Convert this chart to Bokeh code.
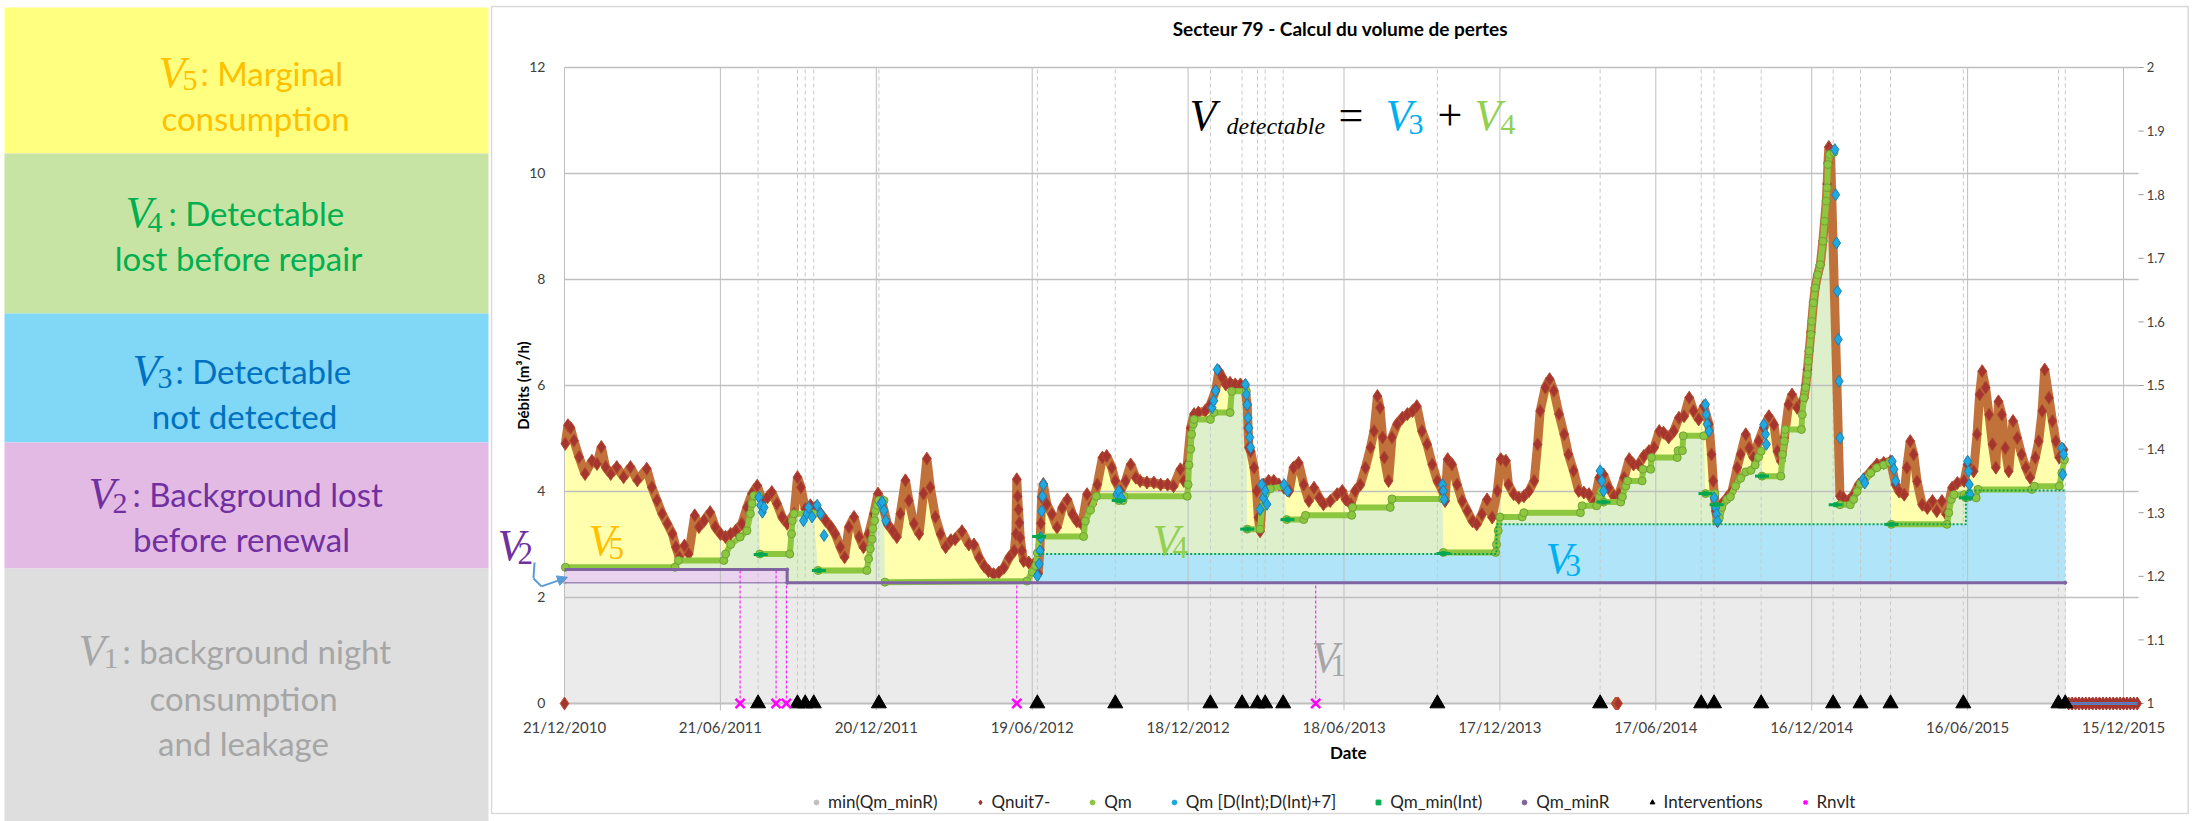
import numpy as np
import pandas as pd
from bokeh.plotting import figure
from bokeh.layouts import row
from bokeh.core.properties import value
from bokeh.models import Range1d, Label, Legend, LegendItem, Arrow, NormalHead
from bokeh.embed import file_html
from bokeh.resources import INLINE

# ---------------- data (days counted from 21/12/2010) ----------------
T0 = "2010-12-21"
tick_labels = ["21/12/2010", "21/06/2011", "20/12/2011", "19/06/2012", "18/12/2012", "18/06/2013",
               "17/12/2013", "17/06/2014", "16/12/2014", "16/06/2015", "15/12/2015"]
x_end_day = 1837.5
left_ticks = [0, 2, 4, 6, 8, 10, 12]
right_ticks = [1, 1.1, 1.2, 1.3, 1.4, 1.5, 1.6, 1.7, 1.8, 1.9, 2]

qnuit_day = [1, 4, 7, 11, 17, 24, 32, 38, 43, 48, 54, 61, 69, 77, 85, 96, 102, 108, 114, 120,
             126, 130, 134, 140, 145, 152, 157, 163, 170, 176, 182, 188, 194, 200, 207, 213, 219, 225, 231, 237,
             242, 248, 254, 260, 268, 272, 276, 281, 287, 293, 299, 305, 311, 316, 322, 327, 332, 338, 344, 349,
             355, 361, 366, 371, 377, 383, 388, 392, 398, 402, 408, 414, 419, 423, 427, 433, 439, 445, 451, 456,
             464, 472, 478, 484, 490, 495, 501, 507, 513, 519, 525, 527, 528, 529, 530, 531, 532, 534, 536, 542,
             548, 553, 555, 556, 557, 559, 563, 569, 575, 581, 587, 593, 598, 604, 610, 616, 622, 628, 633, 639,
             643, 649, 655, 661, 667, 672, 680, 688, 696, 704, 711, 719, 723, 727, 731, 735, 740, 748, 754, 760,
             764, 768, 772, 777, 783, 789, 794, 797, 798, 799, 801, 805, 808, 810, 812, 816, 822, 828, 834, 840,
             846, 851, 857, 863, 869, 875, 881, 886, 894, 902, 908, 912, 918, 923, 929, 935, 941, 945, 949, 952,
             955, 957, 962, 966, 972, 978, 984, 990, 995, 1001, 1007, 1013, 1019, 1025, 1028, 1031, 1036, 1042, 1048, 1054,
             1060, 1065, 1071, 1077, 1083, 1089, 1093, 1099, 1102, 1108, 1114, 1120, 1126, 1132, 1136, 1139, 1145, 1150, 1155, 1161,
             1167, 1172, 1178, 1184, 1190, 1196, 1202, 1208, 1213, 1219, 1225, 1231, 1237, 1243, 1248, 1254, 1260, 1266, 1272, 1278,
             1283, 1289, 1295, 1301, 1307, 1313, 1318, 1324, 1330, 1336, 1339, 1341, 1344, 1346, 1351, 1357, 1363, 1369, 1373, 1379,
             1383, 1388, 1394, 1400, 1406, 1412, 1416, 1420, 1424, 1429, 1433, 1439, 1445, 1447, 1449, 1451, 1453, 1455, 1458, 1460,
             1463, 1466, 1469, 1471, 1473, 1474, 1475, 1476, 1478, 1489, 1493, 1499, 1505, 1511, 1517, 1525, 1532, 1540, 1548, 1554,
             1558, 1564, 1567, 1571, 1575, 1579, 1585, 1591, 1597, 1602, 1608, 1613, 1620, 1626, 1634, 1638, 1645, 1649, 1652, 1655,
             1659, 1663, 1667, 1671, 1674, 1678, 1682, 1686, 1691, 1696, 1701, 1706, 1711, 1717, 1721, 1725, 1728, 1733, 1737, 1741,
             1745, 1750]
qnuit_val = [4.9, 5.25, 5.2, 4.96, 4.65, 4.33, 4.58, 4.52, 4.84, 4.46, 4.33, 4.46, 4.27, 4.46, 4.21, 4.43, 4.08, 3.83, 3.58, 3.39,
             3.2, 2.95, 2.76, 2.98, 2.82, 3.55, 3.33, 3.45, 3.61, 3.33, 3.2, 3.14, 3.2, 3.26, 3.39, 3.7, 3.96, 4.11, 3.83, 3.89,
             3.99, 3.77, 3.52, 3.39, 3.58, 4.27, 4.08, 3.67, 3.74, 3.7, 3.58, 3.45, 3.33, 3.2, 2.95, 2.76, 3.33, 3.52, 3.14, 2.95,
             3.2, 3.58, 3.96, 3.77, 3.39, 3.26, 3.14, 3.58, 4.21, 3.83, 3.39, 3.2, 3.96, 4.62, 4.08, 3.52, 3.2, 2.95, 3.08, 3.1,
             3.25, 3.0, 3.0, 2.75, 2.59, 2.5, 2.44, 2.47, 2.56, 2.75, 2.88, 3.2, 4.23, 3.91, 3.66, 3.41, 3.13, 2.88, 2.69, 2.66,
             2.63, 2.45, 2.9, 3.4, 3.9, 4.14, 3.76, 3.57, 3.32, 3.69, 3.85, 3.57, 3.44, 3.38, 3.95, 3.76, 4.13, 4.64, 4.67, 4.45,
             4.2, 4.01, 4.2, 4.51, 4.26, 4.2, 4.17, 4.17, 4.13, 4.13, 4.1, 4.42, 4.2, 4.51, 5.2, 5.46, 5.49, 5.52, 5.64, 5.9,
             6.27, 6.15, 6.02, 6.05, 6.02, 6.02, 5.99, 5.64, 5.2, 4.83, 4.76, 4.45, 4.01, 3.51, 3.25, 4.13, 4.2, 4.2, 4.13, 4.07,
             4.01, 4.45, 4.54, 4.13, 3.82, 4.07, 3.88, 3.76, 3.82, 3.95, 4.01, 3.85, 3.76, 4.01, 4.13, 4.45, 4.83, 5.14, 5.8, 5.58,
             5.02, 4.64, 4.2, 5.02, 5.27, 5.39, 5.46, 5.52, 5.61, 5.14, 4.89, 4.51, 4.2, 4.01, 3.82, 4.61, 4.51, 4.13, 3.82, 3.63,
             3.44, 3.38, 3.57, 3.85, 3.51, 4.01, 4.61, 4.58, 4.13, 3.95, 3.88, 3.91, 4.01, 4.2, 4.89, 5.52, 5.96, 6.12, 5.9, 5.46,
             5.08, 4.7, 4.39, 4.01, 3.98, 3.95, 3.79, 4.26, 4.32, 4.07, 3.91, 3.95, 4.26, 4.61, 4.51, 4.51, 4.67, 4.76, 4.83, 5.14,
             5.11, 5.02, 5.14, 5.39, 5.42, 5.77, 5.52, 5.36, 5.61, 5.27, 4.7, 4.2, 3.63, 3.44, 3.76, 3.88, 4.01, 4.45, 4.7, 5.08,
             4.82, 4.64, 4.95, 5.2, 5.42, 5.26, 4.76, 4.57, 5.01, 5.64, 5.83, 5.58, 5.7, 5.77, 6.0, 6.3, 6.65, 7.0, 7.56, 7.84,
             8.09, 8.28, 8.72, 9.1, 9.48, 9.8, 10.2, 10.5, 10.4, 3.91, 3.88, 3.82, 3.94, 4.13, 4.23, 4.38, 4.51, 4.54, 4.57, 4.13,
             4.0, 3.94, 4.45, 4.95, 4.7, 4.19, 3.75, 3.69, 3.82, 3.63, 3.82, 3.57, 4.07, 4.16, 4.2, 4.51, 4.38, 5.08, 5.83, 6.27,
             5.96, 5.45, 4.89, 4.45, 5.7, 5.45, 4.82, 4.38, 5.33, 5.01, 4.7, 4.45, 4.26, 4.64, 4.95, 5.52, 6.3, 5.77, 5.33, 4.95,
             4.64, 4.79]
qnuit_zero_day = [0, 1227, 1228, 1229, 1230]
tail_zero_day = [1756, 1760, 1764, 1768, 1772, 1776, 1780, 1784, 1788, 1792, 1796, 1800, 1804, 1808,
                 1812, 1816, 1820, 1824, 1828, 1832, 1836]

qm_day = [1, 129, 133, 186, 188, 194, 205, 213, 217, 219, 221, 227, 228, 263, 265, 266, 268, 291, 296, 353,
          355, 357, 359, 360, 362, 363, 365, 367, 373, 374, 540, 546, 550, 552, 555, 606, 608, 614, 621, 645,
          647, 652, 653, 727, 728, 729, 731, 732, 734, 735, 754, 758, 777, 779, 796, 797, 812, 814, 818, 824,
          840, 843, 863, 865, 919, 920, 964, 966, 1025, 1026, 1087, 1088, 1090, 1092, 1118, 1120, 1186, 1188, 1205, 1208,
          1210, 1213, 1233, 1235, 1239, 1241, 1258, 1259, 1268, 1269, 1299, 1300, 1305, 1306, 1330, 1332, 1343, 1345, 1348, 1351,
          1357, 1361, 1367, 1373, 1379, 1385, 1390, 1394, 1397, 1398, 1420, 1422, 1424, 1425, 1444, 1445, 1447, 1449, 1451, 1452,
          1453, 1455, 1456, 1458, 1460, 1463, 1466, 1469, 1471, 1473, 1474, 1475, 1477, 1482, 1489, 1501, 1505, 1509, 1513, 1517,
          1525, 1532, 1540, 1547, 1549, 1614, 1616, 1619, 1622, 1634, 1636, 1648, 1650, 1713, 1716, 1745, 1748, 1751]
qm_val = [2.57, 2.57, 2.70, 2.70, 2.82, 3.0, 3.14, 3.26, 3.58, 3.77, 3.92, 3.92, 2.82, 2.82, 3.2, 3.45, 3.58, 3.58, 2.51, 2.51,
          2.73, 2.92, 3.1, 3.3, 3.45, 3.64, 3.74, 3.83, 3.83, 2.29, 2.31, 2.48, 2.6, 2.84, 3.15, 3.15, 3.44, 3.65, 3.91, 3.91,
          3.83, 3.83, 3.91, 3.91, 4.13, 4.5, 4.8, 5.08, 5.27, 5.36, 5.36, 5.49, 5.49, 5.89, 5.89, 3.29, 3.29, 3.7, 3.95, 4.05,
          4.1, 3.47, 3.47, 3.55, 3.55, 3.7, 3.7, 3.86, 3.86, 2.85, 2.85, 3.0, 3.26, 3.52, 3.52, 3.6, 3.6, 3.73, 3.73, 3.9,
          4.0, 3.8, 3.8, 3.9, 4.1, 4.2, 4.2, 4.42, 4.42, 4.64, 4.64, 4.77, 4.77, 5.05, 5.05, 3.96, 3.96, 3.44, 3.5, 3.7,
          3.85, 3.9, 4.1, 4.25, 4.37, 4.4, 4.5, 4.65, 4.76, 4.29, 4.29, 4.7, 4.95, 5.17, 5.17, 5.45, 5.77, 5.96, 6.21, 6.46,
          6.65, 6.96, 7.21, 7.56, 7.84, 8.09, 8.28, 8.72, 9.1, 9.48, 9.73, 10.17, 10.36, 10.4, 3.75, 3.75, 3.85, 4.0, 4.15, 4.2,
          4.35, 4.45, 4.5, 4.55, 3.38, 3.38, 3.6, 3.85, 3.94, 3.94, 3.88, 3.88, 4.04, 4.04, 4.1, 4.1, 4.35, 4.6]

# Qm [D(Int);D(Int)+7]
qmd7_day = [227, 229, 231, 233, 279, 283, 285, 289, 295, 299, 303, 369, 371, 373, 375,
            552, 554, 555, 556, 557, 558, 559, 645, 647, 650, 756, 758, 760, 762,
            795, 796, 797, 798, 799, 800, 801, 812, 814, 816, 818, 820, 840, 844,
            1025, 1026, 1027, 1209, 1211, 1213, 1332, 1333, 1334, 1336, 1342, 1344, 1345, 1346,
            1400, 1402, 1403, 1483, 1484, 1485, 1486, 1487, 1488, 1489, 1516, 1518,
            1550, 1552, 1554, 1638, 1639, 1640, 1641, 1748, 1749, 1750]
qmd7_val = [3.89, 3.74, 3.61, 3.7, 3.45, 3.58, 3.7, 3.52, 3.74, 3.58, 3.17, 3.77, 3.8, 3.64, 3.45,
            2.41, 2.63, 2.88, 3.13, 3.63, 3.91, 4.13, 3.95, 4.01, 3.88, 5.58, 5.71, 5.9, 6.3,
            6.02, 5.83, 5.64, 5.39, 5.2, 5.02, 4.83, 3.66, 4.13, 3.88, 4.01, 3.76, 4.13, 4.01,
            4.13, 4.01, 3.85, 4.39, 4.2, 4.01, 5.64, 5.45, 5.27, 5.14, 3.88, 3.69, 3.57, 3.44,
            5.26, 5.08, 4.89, 10.45, 9.6, 8.69, 7.78, 6.87, 6.08, 5.01, 4.23, 4.16,
            4.57, 4.42, 4.2, 4.57, 4.38, 4.13, 3.94, 4.82, 4.32, 4.7]

# Qm_min(Int)
qmin_dash_day = [229, 297, 554, 647, 797, 844, 1026, 1213, 1332, 1345, 1398, 1484, 1549, 1636]
qmin_dash_val = [2.81, 2.51, 3.15, 3.83, 3.29, 3.47, 2.83, 3.8, 3.96, 3.75, 4.29, 3.75, 3.38, 3.88]
qmin_int_start = [553, 1088, 1636]
qmin_int_level = [2.82, 3.38, 4.02]

# Qm_minR and min(Qm_minR)
minR_start = [0, 260]
minR_level = [2.53, 2.28]
min_minR_level = 2.28
data_end_day = 1752

interventions_day = [226, 272, 281, 291, 367, 552, 643, 754, 791, 809, 818, 839, 1019, 1209,
                     1327, 1342, 1397, 1481, 1513, 1548, 1633, 1744, 1752]
rnvlt_day = [205, 247, 259, 528, 877]

assert len(qnuit_day) == len(qnuit_val)
assert len(qm_day) == len(qm_val)
assert len(qmd7_day) == len(qmd7_val)

# ---------------- helpers ----------------
t0_ms = pd.Timestamp(T0).value / 1e6


def ms(days):
    return t0_ms + np.asarray(days, dtype=float) * 86400000.0


def steps(starts, levels, end):
    xs, ys = [], []
    bounds = list(starts[1:]) + [end]
    for s, e, v in zip(starts, bounds, levels):
        xs += [s, e]
        ys += [v, v]
    return xs, ys


def level_at(starts, levels, d):
    idx = np.searchsorted(np.asarray(starts), d, side="right") - 1
    return levels[max(idx, 0)]


FONT = "Lato"
SERIF = "Liberation Serif"

# ---------------- left panel ----------------
lp = figure(width=490, height=821, x_range=Range1d(0, 490), y_range=Range1d(821, 0),
            output_backend="svg", toolbar_location=None, min_border=0)
lp.axis.visible = False
lp.grid.visible = False
lp.outline_line_color = None
box_top = [7, 153, 313, 442, 568]
box_bot = [153, 313, 442, 568, 821]
box_col = ["#FFFF80", "#C8E4A5", "#80D7F6", "#E3BAE4", "#DEDEDE"]
lp.quad(left=[4] * 5, right=[488] * 5, top=box_top, bottom=box_bot, fill_color=box_col, line_color=None)


def ltxt(fig, x, y, t, col, size, font=FONT, style="normal", align="left"):
    fig.add_layout(Label(x=x, y=y, text=t, text_color=col, text_font=font, text_font_size=f"{size}px",
                         text_font_style=style, text_align=align, text_baseline="alphabetic"))


panel = [
    (158, 72, "5", 182, 80, 200, ": Marginal", [(255, 117, "consumption")], "#FFC000"),
    (125, 212, "4", 147, 222, 168, ": Detectable", [(238, 257, "lost before repair")], "#00B050"),
    (132, 370, "3", 157, 378, 175, ": Detectable", [(244, 415, "not detected")], "#0070C0"),
    (88, 493, "2", 112, 503, 132, ": Background lost", [(241, 538, "before renewal")], "#7030A0"),
    (78, 650, "1", 103, 658, 122, ": background night",
     [(243, 697, "consumption"), (243, 742, "and leakage")], "#A6A6A6"),
]
for vx, by, dg, sx, sy, rx, rest, lines, col in panel:
    ltxt(lp, vx, by, "V", col, 44, SERIF, "italic")
    ltxt(lp, sx, sy, dg, col, 30, SERIF)
    ltxt(lp, rx, by, rest, col, 33)
    for cx, cy, t in lines:
        ltxt(lp, cx, cy, t, col, 33, align="center")

# ---------------- main chart ----------------
tick_ms = [pd.to_datetime(t, format="%d/%m/%Y").value / 1e6 for t in tick_labels]
# the frame covers the whole canvas; axes texts are drawn in data space
Y_LO, Y_HI = -2.2264, 13.264
X_LO, X_HI = -86.39, 1902.87

p = figure(width=1704, height=821, x_axis_location=None, y_axis_location=None,
           x_range=Range1d(ms(X_LO), ms(X_HI)), y_range=Range1d(Y_LO, Y_HI),
           output_backend="svg", toolbar_location=None, min_border=0)
p.outline_line_color = None
p.grid.visible = False
for f in (lp, p):
    if "frame_align" in f.properties():
        f.frame_align = False

# chart border
cb = p.quad(left=[float(ms(-85.2))], right=[float(ms(1895.5))], top=[13.15], bottom=[-2.075],
            fill_color=None, line_color="#D9D9D9", line_width=1.5)
cb.level = "image"

# areas (bottom layer)
bx, by_ = steps(qmin_int_start, qmin_int_level, data_end_day)
rx_, ry_ = steps(minR_start, minR_level, data_end_day)
areas = [
    (qnuit_day, qnuit_val, "#FFFFAE"),
    (qm_day, qm_val, "#DDEFCB"),
    (bx, by_, "#B0E4F8"),
    (rx_, ry_, "#EAD3EE"),
    ([0, data_end_day], [min_minR_level] * 2, "#EBEBEB"),
]
for xs, ys, col in areas:
    r = p.varea(x=ms(xs), y1=0, y2=ys, fill_color=col)
    r.level = "image"

# grid lines (drawn over the areas)
n_l = len(left_ticks)
g1 = p.segment(x0=ms([0] * n_l), y0=left_ticks, x1=ms([x_end_day] * n_l), y1=left_ticks,
               line_color="#BFBFBF", line_width=[2] + [1.3] * (n_l - 1))
g2 = p.segment(x0=tick_ms, y0=[-0.13] * len(tick_ms), x1=tick_ms, y1=[left_ticks[-1]] * len(tick_ms),
               line_color="#BFBFBF", line_width=1)
g3 = p.segment(x0=ms(interventions_day), y0=[0] * len(interventions_day), x1=ms(interventions_day),
               y1=[left_ticks[-1]] * len(interventions_day), line_color="#C8C8C8", line_dash="4 3", line_width=1)
rn_top = [level_at(minR_start, minR_level, d) for d in rnvlt_day]
g4 = p.segment(x0=ms(rnvlt_day), y0=[0] * len(rnvlt_day), x1=ms(rnvlt_day), y1=rn_top,
               line_color="#FF00FF", line_dash="3 2", line_width=1)
for g in (g1, g2, g3, g4):
    g.level = "underlay"

# left axis labels
p.text(x=ms([-22.2] * n_l), y=left_ticks, text=[f"{t}" for t in left_ticks],
       text_align="right", text_baseline="middle", text_font=value(FONT),
       text_font_size=value("14px"), text_color="#404040")
p.add_layout(Label(x=float(ms(-49)), y=6.0, text="Débits (m³/h)", angle=np.pi / 2, text_align="center",
                   text_baseline="middle", text_font=FONT, text_font_size="15px", text_font_style="bold",
                   text_color="#000000"))
# right axis (secondary scale 1..2 mapped onto 0..12)
r_pos = [(t - 1) * 12 for t in right_ticks]
p.segment(x0=ms([x_end_day] * len(r_pos)), y0=r_pos, x1=ms([x_end_day + 6] * len(r_pos)), y1=r_pos,
          line_color="#999999", line_width=1)
p.text(x=ms([x_end_day + 9.5] * len(r_pos)), y=r_pos, text=[f"{t:g}" for t in right_ticks],
       text_align="left", text_baseline="middle", text_font=value(FONT),
       text_font_size=value("13px"), text_color="#404040")
# bottom axis
p.text(x=tick_ms, y=[-0.434] * len(tick_ms), text=tick_labels, text_align="center", text_baseline="middle",
       text_font=value(FONT), text_font_size=value("15px"), text_color="#404040")
p.add_layout(Label(x=float(ms(915)), y=-0.925, text="Date", text_align="center", text_baseline="middle",
                   text_font=FONT, text_font_size="17px", text_font_style="bold", text_color="#000000"))
# title
p.add_layout(Label(x=float(ms(905.9)), y=12.736, text="Secteur 79 - Calcul du volume de pertes",
                   text_align="center", text_baseline="middle", text_font=FONT, text_font_size="19px",
                   text_font_style="bold", text_color="#000000"))

# small marks used as legend glyphs (drawn first, hidden under the full-size marks)
lg_min = p.scatter(ms([0, data_end_day]), [min_minR_level] * 2, marker="circle", size=3,
                   fill_color="#BFBFBF", line_color="#BFBFBF")
lg_minR = p.scatter(ms(rx_), ry_, marker="circle", size=3, fill_color="#8064A2", line_color="#8064A2")

# Qnuit7-
lg_qn = p.scatter(ms(qnuit_day), qnuit_val, marker="diamond", size=8, fill_color="#A5352E", line_color="#A5352E")
p.line(ms(qnuit_day), qnuit_val, line_color="#BE6A31", line_width=9, line_alpha=0.95)
p.scatter(ms(qnuit_day), qnuit_val, marker="diamond", size=13,
          fill_color="#A5352E", line_color="#B04A2F", line_width=1)
p.scatter(ms(qnuit_zero_day), [0] * len(qnuit_zero_day), marker="diamond", size=13,
          fill_color="#A5352E", line_color="#B8562F")
p.scatter(ms(tail_zero_day), [0] * len(tail_zero_day), marker="diamond", size=13,
          fill_color="#A5352E", line_color="#A5352E")

# Qm (thick line broken at drops + circles)
lg_qm = p.scatter(ms(qm_day), qm_val, marker="circle", size=6, fill_color="#8DC63F", line_color="#8DC63F")
qd = np.asarray(qm_day, float)
qv = np.asarray(qm_val, float)
cuts = np.where(np.diff(qv) < -0.3)[0] + 1
xs_l = [list(ms(s)) for s in np.split(qd, cuts)]
ys_l = [list(s) for s in np.split(qv, cuts)]
p.multi_line(xs_l, ys_l, line_color="#8DC63F", line_width=6)
p.scatter(ms(qm_day), qm_val, marker="circle", size=8, fill_color="#8DC63F",
          line_color="#6FA336", line_width=1)

# Qm [D(Int);D(Int)+7]
lg_d7 = p.scatter(ms(qmd7_day), qmd7_val, marker="circle", size=5, fill_color="#1FA9E1", line_color="#1FA9E1")
p.scatter(ms(qmd7_day), qmd7_val, marker="diamond", size=12, fill_color="#1FA9E1",
          line_color="#1B7FB5", line_width=1)
p.line(ms(tail_zero_day), [0] * len(tail_zero_day), line_color="#1FA9E1", line_width=3)

# Qm_min(Int)
lg_mi = p.scatter(ms(qmin_dash_day), qmin_dash_val, marker="square", size=4, fill_color="#00B050",
                  line_color="#00B050")
p.line(ms(bx), by_, line_color="#00A651", line_width=2, line_dash="2 2")
p.scatter(ms(qmin_dash_day), qmin_dash_val, marker="dash", size=14, line_color="#00A651", line_width=3)

# Qm_minR
p.line(ms([0, data_end_day]), [min_minR_level] * 2, line_color="#8064A2", line_width=1.5, line_alpha=0.7)
p.line(ms(rx_), ry_, line_color="#8064A2", line_width=3)
p.line(ms(tail_zero_day), [0] * len(tail_zero_day), line_color="#8064A2", line_width=2)

# Interventions and renewals
r_int = p.scatter(ms(interventions_day), [0] * len(interventions_day), marker="triangle", size=15,
                  fill_color="black", line_color="black")
r_rn = p.scatter(ms(rnvlt_day), [0] * len(rnvlt_day), marker="x", size=13, line_color="#FF00FF", line_width=2.5)


# overlay labels
def vlab(day, y, t, col, size, style="italic"):
    p.add_layout(Label(x=float(ms(day)), y=y, text=t, text_color=col, text_font=SERIF,
                       text_font_size=f"{size}px", text_font_style=style, text_baseline="alphabetic"))


for (vd, vy, sd, sy, dg, col) in [(28, 3.08, 51.4, 2.92, "5", "#FFC000"),
                                  (686.4, 3.08, 709.8, 2.94, "4", "#92D050"),
                                  (1145.2, 2.74, 1168.6, 2.6, "3", "#00B0F0"),
                                  (-78.2, 2.98, -54.9, 2.83, "2", "#7030A0"),
                                  (872, 0.87, 894.2, 0.72, "1", "#A6A6A6")]:
    vlab(vd, vy, "V", col, 44)
    vlab(sd, sy, dg, col, 31, "normal")

# formula  V_detectable = V3 + V4
vlab(729.6, 11.09, "V", "#000000", 44)
vlab(772.8, 10.9, "detectable", "#000000", 24)
vlab(903.6, 11.09, "=", "#000000", 44, "normal")
vlab(958.4, 11.09, "V", "#00B0F0", 44)
vlab(985.3, 10.92, "3", "#00B0F0", 30, "normal")
vlab(1019.2, 11.09, "+", "#000000", 44, "normal")
vlab(1062.3, 11.09, "V", "#92D050", 44)
vlab(1092.7, 10.92, "4", "#92D050", 30, "normal")

# arrow V2 -> pink zone
acol = "#5B9BD5"
p.add_layout(Arrow(end=None, x_start=float(ms(-35)), y_start=2.66, x_end=float(ms(-36.2)), y_end=2.36,
                   line_color=acol, line_width=2))
p.add_layout(Arrow(end=None, x_start=float(ms(-36.2)), y_start=2.36, x_end=float(ms(-26.9)), y_end=2.21,
                   line_color=acol, line_width=2))
p.add_layout(Arrow(end=NormalHead(size=10, fill_color=acol, line_color=acol),
                   x_start=float(ms(-26.9)), y_start=2.21, x_end=float(ms(3.5)), y_end=2.38,
                   line_color=acol, line_width=2))

legend = Legend(items=[
    LegendItem(label="min(Qm_minR)", renderers=[lg_min]),
    LegendItem(label="Qnuit7-", renderers=[lg_qn]),
    LegendItem(label="Qm", renderers=[lg_qm]),
    LegendItem(label="Qm [D(Int);D(Int)+7]", renderers=[lg_d7]),
    LegendItem(label="Qm_min(Int)", renderers=[lg_mi]),
    LegendItem(label="Qm_minR", renderers=[lg_minR]),
    LegendItem(label="Interventions", renderers=[r_int]),
    LegendItem(label="Rnvlt", renderers=[r_rn]),
], orientation="horizontal", location=(320, 9), border_line_color=None,
    background_fill_alpha=0, label_text_font=FONT, label_text_font_size="17px", label_text_color="#262626",
    spacing=36, glyph_width=12, label_standoff=6, margin=0, padding=5)
p.add_layout(legend)

layout = row(lp, p)
open("out.html", "w").write(file_html(layout, INLINE))
